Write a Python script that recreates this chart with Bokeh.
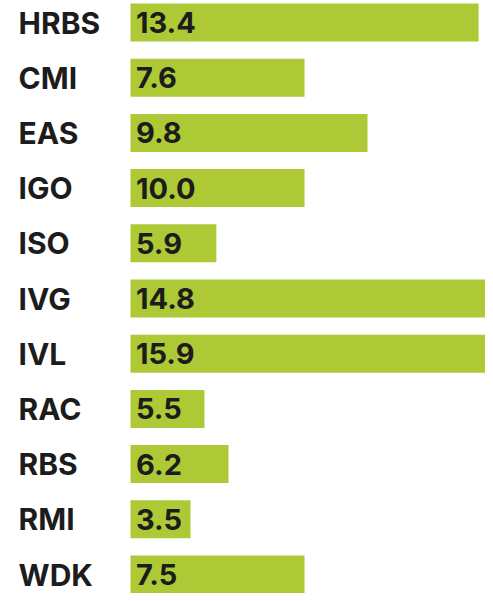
from bokeh.plotting import figure
from bokeh.models import Range1d, ColumnDataSource
from bokeh.core.properties import value
from bokeh.embed import file_html
from bokeh.resources import INLINE

# Data
categories = ["HRBS", "CMI", "EAS", "IGO", "ISO", "IVG", "IVL", "RAC", "RBS", "RMI", "WDK"]
bar_values = [15.2, 7.6, 10.35, 7.6, 3.75, 15.8, 16.2, 3.23, 4.28, 2.62, 7.6]
label_values = ["13.4", "7.6", "9.8", "10.0", "5.9", "14.8", "15.9", "5.5", "6.2", "3.5", "7.5"]

rows = list(range(len(categories)))

src = ColumnDataSource(dict(
    y=rows,
    cat=categories,
    val=bar_values,
    lab=label_values,
))

p = figure(
    width=485, height=593,
    x_range=Range1d(-5.677, 15.502),
    y_range=Range1d(10.344, -0.3986),
    output_backend="svg", toolbar_location=None,
    min_border=0, min_border_left=0, min_border_right=0,
    min_border_top=0, min_border_bottom=0,
)
p.axis.visible = False
p.grid.visible = False
p.outline_line_color = None
p.background_fill_color = "white"
p.border_fill_color = "white"

p.hbar(y="y", left=0, right="val", height=0.688, source=src,
       fill_color="#adc936", line_color=None)

p.text(x=-4.89, y="y", text="cat", source=src,
       text_font=value("Inter"), text_font_style="bold",
       text_font_size="30px", text_color="#1c1c1c",
       text_align="left", text_baseline="middle")

p.text(x=0.24, y="y", text="lab", source=src,
       text_font=value("Inter"), text_font_style="bold",
       text_font_size="29px", text_color="#1c1c1c",
       text_align="left", text_baseline="middle")

open("out.html", "w").write(file_html(p, INLINE))
